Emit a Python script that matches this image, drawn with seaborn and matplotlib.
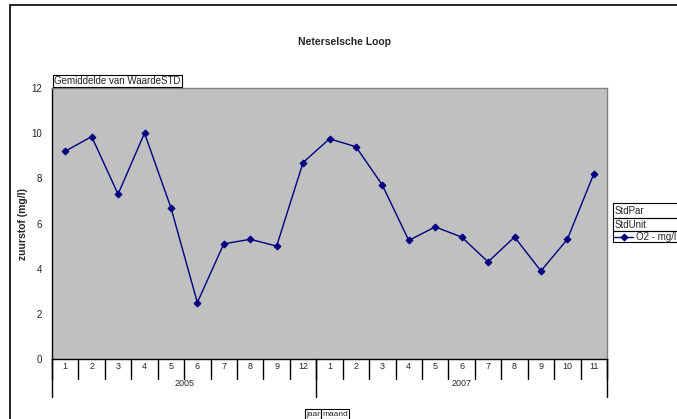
import matplotlib
matplotlib.use("Agg")
import matplotlib.pyplot as plt
import seaborn as sns
import pandas as pd
import numpy as np
from matplotlib.patches import Rectangle
import matplotlib.transforms as mtrans

years = ["2005"] * 10 + ["2007"] * 11
months = ["1", "2", "3", "4", "5", "6", "7", "8", "9", "12",
          "1", "2", "3", "4", "5", "6", "7", "8", "9", "10", "11"]
o2 = [9.2, 9.85, 7.3, 10.0, 6.7, 2.5, 5.1, 5.3, 5.0, 8.7,
      9.75, 9.4, 7.7, 5.25, 5.85, 5.4, 4.3, 5.4, 3.9, 5.3, 8.2]
yticks = [0, 2, 4, 6, 8, 10, 12]

df = pd.DataFrame({"jaar": years, "maand": months, "O2": o2})
df["pos"] = np.arange(len(df))

sns.set_style("white")
plt.rcParams["font.family"] = ["Liberation Sans", "DejaVu Sans"]

W, H = 677, 419
fig = plt.figure(figsize=(W / 100, H / 100), dpi=100)
L, R, T, B = 52, 607, 88, 359
ax = fig.add_axes([L / W, (H - B) / H, (R - L) / W, (B - T) / H])
ax.set_facecolor("#C0C0C0")
for s in ["top", "right", "bottom", "left"]:
    ax.spines[s].set_color("#808080")
    ax.spines[s].set_linewidth(1.0)
ax.spines["bottom"].set_color("black")
ax.spines["left"].set_color("black")

sns.lineplot(data=df, x="pos", y="O2", ax=ax, color="#000080", marker="D",
             markersize=3.5, markeredgecolor="#000080", linewidth=1.0,
             label="O2 - mg/l", legend=False)

n = len(df)
ax.set_xlim(-0.5, n - 0.5)
ax.set_ylim(0, 12)
ax.set_yticks(yticks)
ax.set_yticklabels([str(v) for v in yticks], fontsize=7)
ax.tick_params(axis="y", direction="out", length=5, width=1, pad=2, color="black")
ax.set_xticks(df["pos"])
ax.set_xticklabels(df["maand"], fontsize=6.5)
ax.tick_params(axis="x", length=0, pad=2)
ax.set_xlabel("")
ax.set_ylabel("zuurstof (mg/l)", fontsize=7.5, fontweight="bold")
ax.yaxis.set_label_coords((28 - L) / (R - L), 0.5)

# category separators
tr = mtrans.blended_transform_factory(ax.transData, ax.transAxes)
ph = (B - T)
for b in np.arange(-0.5, n, 1.0):
    ax.plot([b, b], [0, -20 / ph], color="black", lw=1, transform=tr, clip_on=False)
# year group separators
bounds = [-0.5]
for i in range(1, n):
    if years[i] != years[i - 1]:
        bounds.append(i - 0.5)
bounds.append(n - 0.5)
for b in bounds:
    ax.plot([b, b], [0, -38 / ph], color="black", lw=1, transform=tr, clip_on=False)
for a, b in zip(bounds[:-1], bounds[1:]):
    ax.text((a + b) / 2, -24 / ph, years[int(a + 0.5)], transform=tr,
            ha="center", va="center", fontsize=6.5)

# title
fig.text(345 / W, 1 - 42 / H, "Neterselsche Loop", ha="center", va="center",
         fontsize=7.5, fontweight="bold")

# outer chart border
fig.patches.append(Rectangle((10 / W, -0.1), 1.2, 1 - 5 / H + 0.1,
                             transform=fig.transFigure, fill=False,
                             edgecolor="black", lw=1.2))

# field buttons
btn = dict(boxstyle="square,pad=0.15", facecolor="white", edgecolor="black", lw=0.8)
fig.text(54 / W, 1 - 81 / H, "Gemiddelde van WaardeSTD", ha="left", va="center",
         fontsize=7, bbox=btn)
fig.text(306 / W, 1 - 414 / H, "jaar", ha="left", va="center", fontsize=6, bbox=btn)
fig.text(322 / W, 1 - 414 / H, "maand", ha="left", va="center", fontsize=6, bbox=btn)

# legend table
fig.text(615 / W, 1 - 210.5 / H, "StdPar", ha="left", va="center", fontsize=7)
fig.text(615 / W, 1 - 224.5 / H, "StdUnit", ha="left", va="center", fontsize=7)
for y0, y1 in [(203, 218), (218, 231), (231, 242)]:
    fig.patches.append(Rectangle((613 / W, 1 - y1 / H), 0.2, (y1 - y0) / H,
                                 transform=fig.transFigure, fill=False,
                                 edgecolor="black", lw=0.8))
h, l = ax.get_legend_handles_labels()
leg = ax.legend(h, l, loc="center left", bbox_to_anchor=(614 / W, 1 - 237 / H),
                bbox_transform=fig.transFigure, frameon=False, fontsize=7,
                handlelength=2.0, handletextpad=0.3, borderpad=0, borderaxespad=0)

fig.savefig("out.png", dpi=100)
